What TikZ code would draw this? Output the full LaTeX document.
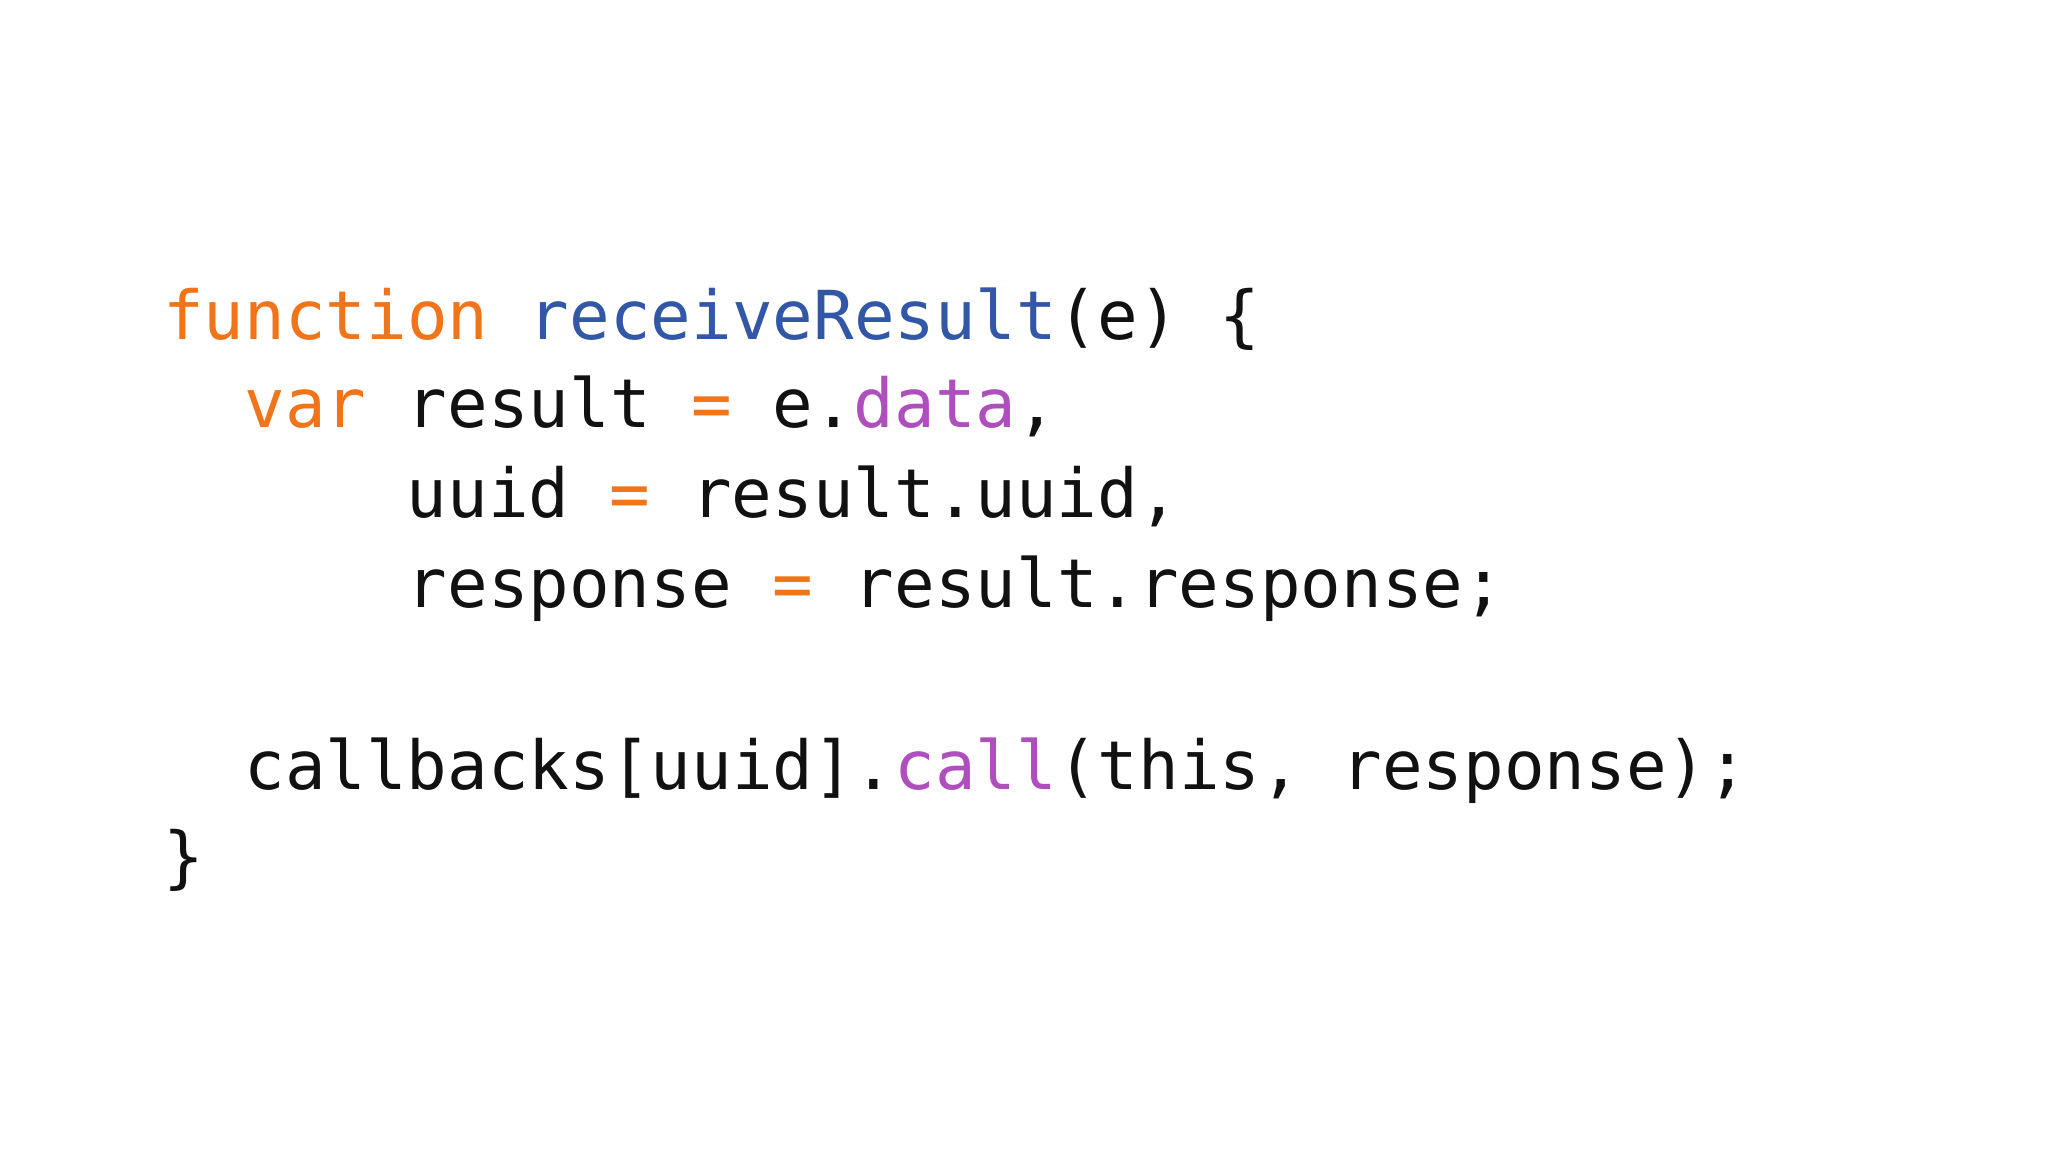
\documentclass[tikz,border=0pt]{standalone}
\usepackage{fontspec}
\setmonofont{DejaVu Sans Mono}
\definecolor{kw}{HTML}{F27418}
\definecolor{fn}{HTML}{3157A6}
\definecolor{pr}{HTML}{AE4FBD}
\definecolor{tx}{HTML}{111111}
\begin{document}
\begin{tikzpicture}[x=1pt,y=1pt,
  code/.style={anchor=base west,inner sep=0pt,font=\fontsize{67.5}{80}\selectfont\ttfamily,text=tx}]
\useasboundingbox[fill=white] (0,0) rectangle (2048,1152);
\def\cw{40.6}
\node[code] (l1) at (163,812) {\textcolor{kw}{function} \textcolor{fn}{receiveResult}(e) \{};
\node[code] (l2) at (163+2*\cw,724) {\textcolor{kw}{var} result \textcolor{kw}{=} e.\textcolor{pr}{data},};
\node[code] (l3) at (163+6*\cw,634) {uuid \textcolor{kw}{=} result.uuid,};
\node[code] (l4) at (163+6*\cw,544) {response \textcolor{kw}{=} result.response;};
\node[code] (l6) at (163+2*\cw,362) {callbacks[uuid].\textcolor{pr}{call}(this, response);};
\node[code] (l7) at (163,271) {\}};
\end{tikzpicture}
\end{document}
